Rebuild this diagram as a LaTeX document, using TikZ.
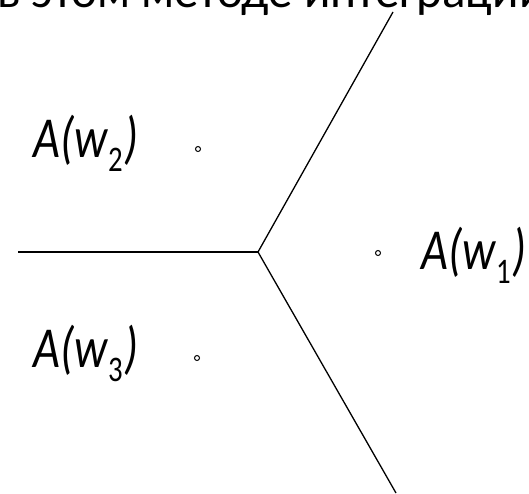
\documentclass[tikz,border=0pt]{standalone}
\usepackage{fontspec}
\setmainfont{Carlito}
\begin{document}
\begin{tikzpicture}[x=1pt,y=-1pt,
  edge/.style={line width=1.3pt,black},
  site/.style={circle,draw=black,line width=1pt,minimum size=5pt,inner sep=0pt},
  lab/.style={anchor=base west,inner sep=0pt,font=\fontsize{58}{58}\selectfont}]
\useasboundingbox (0,0) rectangle (529,493);
\begin{scope}
\clip (0,0) rectangle (529,493);
\node[anchor=base west,inner sep=0pt,font=\fontsize{49}{49}\selectfont] (top) at (-3,7) {в этом методе интеграции и};
\end{scope}
\coordinate (v) at (258,252);
\coordinate (l) at (18,252);
\coordinate (u) at (393,12);
\coordinate (d) at (396,493);
\draw[edge] (l) -- (v);
\draw[edge] (v) -- (u);
\draw[edge] (v) -- (d);
\node[site] (s2) at (198,149) {};
\node[site] (s3) at (197,358) {};
\node[site] (s1) at (378,253) {};
\newcommand{\wlab}[1]{\scalebox{0.8}[1]{{\itshape A(w}\kern1pt\raisebox{-14pt}{\fontsize{36}{36}\selectfont #1}\kern2pt{\itshape )}}}
\node[lab] (a2) at (33,157) {\wlab{2}};
\node[lab] (a3) at (33,367) {\wlab{3}};
\node[lab] (a1) at (421,269) {\wlab{1}};
\end{tikzpicture}
\end{document}
